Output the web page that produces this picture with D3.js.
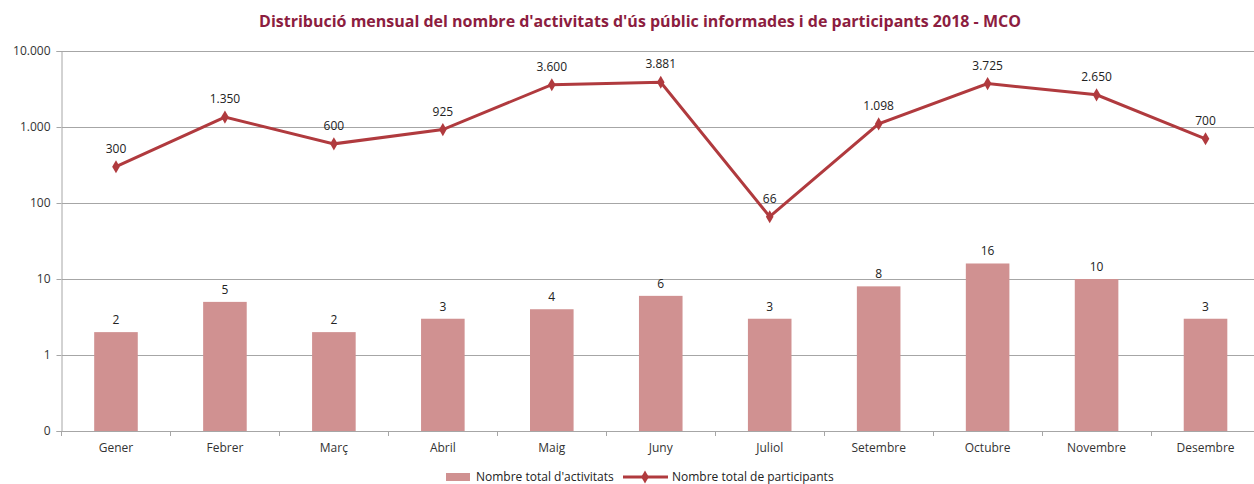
<!DOCTYPE html>
<html><head><meta charset="utf-8">
<script src="https://cdn.jsdelivr.net/npm/d3@7"></script>
<style>body{margin:0;background:#fff;} svg{display:block;}</style>
</head><body>
<svg id="c" width="1254" height="484"></svg>
<script>
const months = ["Gener","Febrer","Març","Abril","Maig","Juny","Juliol","Setembre","Octubre","Novembre","Desembre"];
const activitats = [2,5,2,3,4,6,3,8,16,10,3];
const participants = [300,1350,600,925,3600,3881,66,1098,3725,2650,700];
const yTicks = [0.1,1,10,100,1000,10000];
const title = "Distribució mensual del nombre d'activitats d'ús públic informades i de participants 2018 - MCO";
const legendLabels = ["Nombre total d'activitats","Nombre total de participants"];

const svg = d3.select("#c");
const font = "'Open Sans', 'DejaVu Sans', sans-serif";
const L = 61.5, R = 1260, T = 51, B = 431, GR = 1254;
const x = d3.scaleBand().domain(months).range([L, R]).paddingInner(0).paddingOuter(0);
const y = d3.scaleLog().domain([0.1, 10000]).range([B, T]);
const fmt = v => v < 1 ? "0" : d3.format(",")(v).replace(/,/g, ".");

// title
svg.append("text").attr("x", 640).attr("y", 27).attr("text-anchor","middle")
  .attr("font-family", font).attr("font-weight","bold").attr("font-size",16)
  .attr("fill","#8C1D40").text(title);

// gridlines
svg.append("g").selectAll("line").data(yTicks.slice(1)).join("line")
  .attr("x1", L).attr("x2", GR).attr("y1", d=>y(d)).attr("y2", d=>y(d))
  .attr("stroke","#a6a6a6").attr("stroke-width",1).attr("shape-rendering","crispEdges");

// y axis
const yAxis = d3.axisLeft(y).tickValues(yTicks).tickFormat(fmt).tickSize(5).tickPadding(6);
const gy = svg.append("g").attr("transform",`translate(${L},0)`).call(yAxis);
gy.select(".domain").attr("stroke","#a6a6a6");
gy.selectAll(".tick line").attr("stroke","#a6a6a6");
gy.selectAll("text").attr("font-family",font).attr("font-size",12).attr("fill","#333");

// bars
svg.append("g").selectAll("rect").data(activitats).join("rect")
  .attr("x",(d,i)=>x(months[i]) + x.bandwidth()*0.3)
  .attr("width", x.bandwidth()*0.4)
  .attr("y", d=>y(d)).attr("height", d=>B - y(d))
  .attr("fill","#D09191");

// x axis
const xAxis = d3.axisBottom(x).tickSize(0).tickPadding(12);
const gx = svg.append("g").attr("transform",`translate(0,${B})`).call(xAxis);
gx.select(".domain").attr("d", `M${L},0.5H${GR}`).attr("stroke","#a6a6a6");
gx.selectAll("text").attr("font-family",font).attr("font-size",12).attr("fill","#333");
// boundary ticks
svg.append("g").selectAll("line").data(months.map(m=>x(m))).join("line")
  .attr("x1",d=>d).attr("x2",d=>d).attr("y1",B).attr("y2",B+5)
  .attr("stroke","#a6a6a6").attr("shape-rendering","crispEdges");

// bar labels
svg.append("g").selectAll("text").data(activitats).join("text")
  .attr("x",(d,i)=>x(months[i])+x.bandwidth()/2).attr("y",d=>y(d)-8)
  .attr("text-anchor","middle").attr("font-family",font).attr("font-size",12).attr("fill","#222")
  .text(d=>fmt(d));

// line
const cx = (d,i)=>x(months[i])+x.bandwidth()/2;
svg.append("path").datum(participants)
  .attr("d", d3.line().x(cx).y(d=>y(d)))
  .attr("fill","none").attr("stroke","#B03A3E").attr("stroke-width",3);
const diamond = d3.symbol().type(d3.symbolDiamond).size(50);
svg.append("g").selectAll("path").data(participants).join("path")
  .attr("transform",(d,i)=>`translate(${cx(d,i)},${y(d)})`)
  .attr("d", diamond).attr("fill","#B03A3E");
svg.append("g").selectAll("text").data(participants).join("text")
  .attr("x",cx).attr("y",d=>y(d)-14)
  .attr("text-anchor","middle").attr("font-family",font).attr("font-size",12).attr("fill","#222")
  .text(d=>fmt(d));

// legend
const lg = svg.append("g").attr("font-family",font).attr("font-size",12).attr("fill","#222");
lg.append("rect").attr("x",446).attr("y",473).attr("width",24).attr("height",8).attr("fill","#D09191");
lg.append("text").attr("x",476).attr("y",481).text(legendLabels[0]);
lg.append("line").attr("x1",623).attr("x2",668).attr("y1",477).attr("y2",477).attr("stroke","#B03A3E").attr("stroke-width",3);
lg.append("path").attr("transform","translate(645,477)").attr("d",diamond).attr("fill","#B03A3E");
lg.append("text").attr("x",672).attr("y",481).text(legendLabels[1]);
</script>
</body></html>
